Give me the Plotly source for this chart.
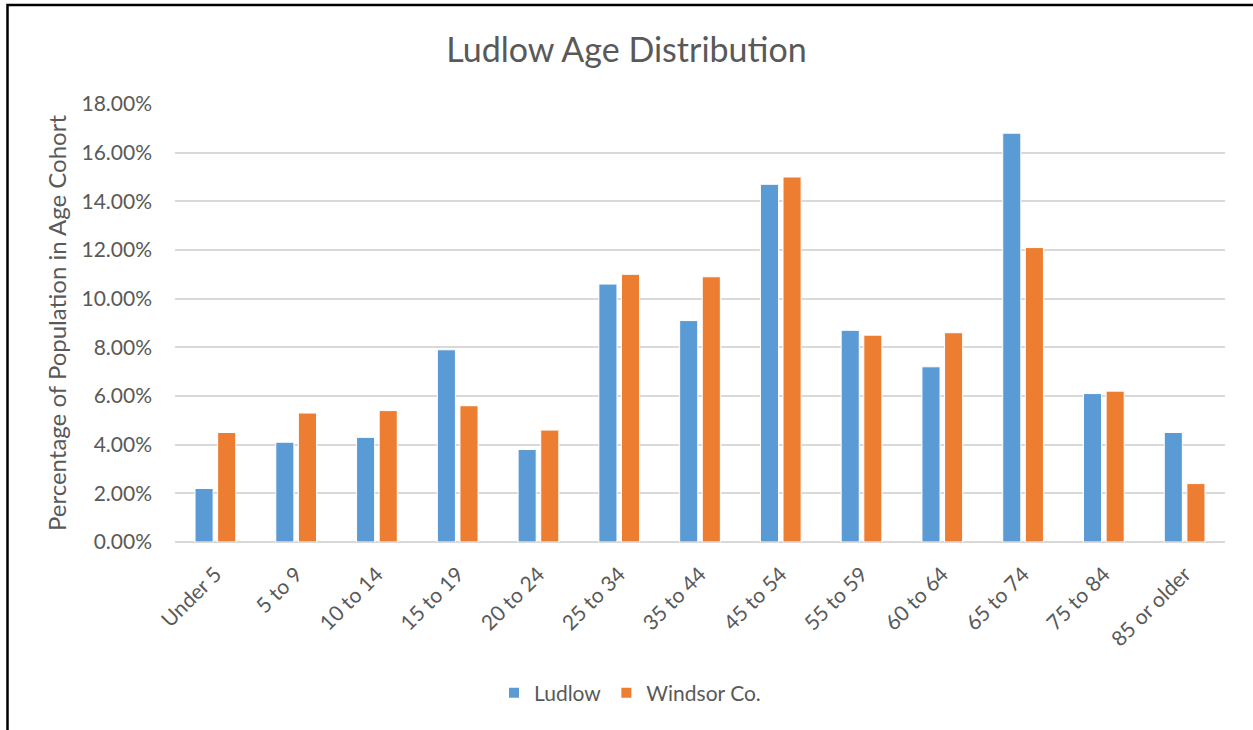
import plotly.graph_objects as go

categories = ["Under 5", "5 to 9", "10 to 14", "15 to 19", "20 to 24", "25 to 34",
              "35 to 44", "45 to 54", "55 to 59", "60 to 64", "65 to 74", "75 to 84",
              "85 or older"]
ludlow = [2.2, 4.1, 4.3, 7.9, 3.8, 10.6, 9.1, 14.7, 8.7, 7.2, 16.8, 6.1, 4.5]
windsor = [4.5, 5.3, 5.4, 5.6, 4.6, 11.0, 10.9, 15.0, 8.5, 8.6, 12.1, 6.2, 2.4]
y_ticks = [0, 2, 4, 6, 8, 10, 12, 14, 16, 18]
y_tick_labels = [f"{v:.2f}%" for v in y_ticks]

FONT = "Lato"
TXT = "#595959"

fig = go.Figure()
fig.add_trace(go.Bar(x=categories, y=ludlow, name="Ludlow",
                     marker=dict(color="#5B9BD5", line=dict(color="white", width=1))))
fig.add_trace(go.Bar(x=categories, y=windsor, name="Windsor Co.",
                     marker=dict(color="#ED7D31", line=dict(color="white", width=1))))

L, R, T, B = 175, 28, 104, 188
W, H = 1253, 730
pw, ph = W - L - R, H - T - B

def px_x(p):
    return (p - L) / pw

def px_y(p):
    return (H - B - p) / ph

fig.update_layout(
    width=W, height=H,
    margin=dict(l=L, r=R, t=T, b=B),
    paper_bgcolor="white", plot_bgcolor="white",
    barmode="group", bargap=0.44, bargroupgap=0.2,
    font=dict(family=FONT, color=TXT, size=21),
    title=dict(text="Ludlow Age Distribution", x=0.5, xanchor="center",
               y=1 - 50 / H, yanchor="middle",
               font=dict(size=34, family=FONT, color=TXT)),
    legend=dict(orientation="h", x=px_x(630), xanchor="center", y=px_y(693), yanchor="middle",
                font=dict(size=21, family=FONT, color=TXT), itemsizing="constant"),
    xaxis=dict(tickangle=-45, showgrid=False, showline=False, ticks="",
               ticklabelstandoff=15,
               tickfont=dict(size=21, family=FONT, color=TXT)),
    yaxis=dict(range=[0, 18], tickvals=y_ticks, ticktext=y_tick_labels,
               showgrid=True, gridcolor="#D9D9D9", gridwidth=1.6,
               zeroline=True, zerolinecolor="#D9D9D9", zerolinewidth=1.6,
               showline=False, ticks="", ticklabelstandoff=22,
               tickfont=dict(size=21, family=FONT, color=TXT),
               title=dict(text="Percentage of Population in Age Cohort",
                          font=dict(size=24, family=FONT, color=TXT), standoff=8)),
    shapes=[dict(type="rect", xref="paper", yref="paper",
                 x0=px_x(7.5), x1=px_x(1262), y0=px_y(760), y1=px_y(5),
                 line=dict(color="black", width=2.5), fillcolor="rgba(0,0,0,0)",
                 layer="above")],
)

fig.write_html("out.html", config={"displayModeBar": False},
               post_script="document.body.style.margin='0';")
